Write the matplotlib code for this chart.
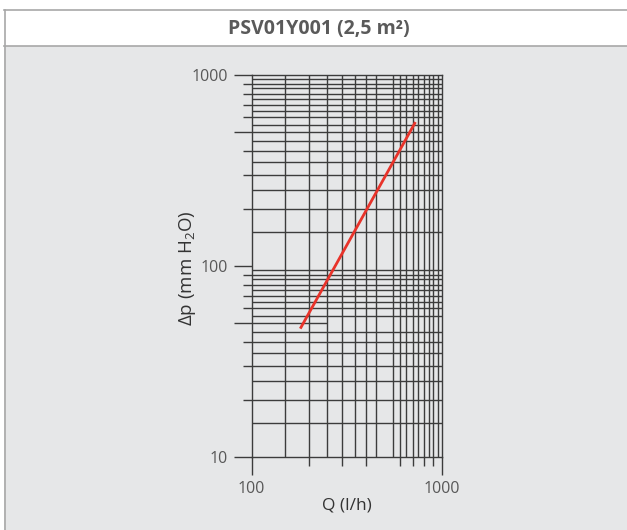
import matplotlib
matplotlib.use("Agg")
import matplotlib.pyplot as plt
from matplotlib.lines import Line2D
from matplotlib.patches import Rectangle

# ---- data ----
title = "PSV01Y001 (2,5 m²)"
x_label = "Q (l/h)"
y_label = "Δp (mm H$_2$O)"
flow_q = [180, 725]          # l/h
pressure_dp = [47, 567]      # mm H2O

x_major = [100, 1000]
x_major_labels = ["100", "1000"]
x_minor = [200, 300, 400, 600, 700, 800, 900]
x_grid = [150, 200, 250, 300, 350, 400, 450, 550, 600, 650, 700, 750, 800, 850, 900, 950]

y_major = [10, 50, 100, 500, 1000]
y_major_labels = ["10", "", "100", "", "1000"]
y_minor = [20, 30, 40, 60, 70, 80, 90, 200, 300, 400, 600, 700, 800, 900]
y_grid = [15, 20, 25, 30, 35, 40, 45, 55, 60, 65, 70, 75, 80, 85, 90, 95,
          150, 200, 250, 300, 350, 400, 450, 500, 550, 600, 650, 700, 750, 800, 850, 900, 950]
y_grid_partial = [50]
y_grid_partial_xmax = 250

# ---- style ----
W, H = 627, 530
BG = "#e6e7e8"
BORDER = "#a8a8a8"
GRID = "#3c3c3c"
TXT = "#585858"

plt.rcParams['font.family'] = ['Open Sans', 'DejaVu Sans']
plt.rcParams['mathtext.fontset'] = 'custom'
plt.rcParams['mathtext.rm'] = 'Open Sans'
plt.rcParams['mathtext.it'] = 'Open Sans'

fig = plt.figure(figsize=(W / 100, H / 100), dpi=100, facecolor="white")

def fx(px):
    return px / W

def fy(py):
    return 1 - py / H

# panel backgrounds
fig.patches.append(Rectangle((fx(4), fy(46)), 1, fy(9) - fy(46), transform=fig.transFigure,
                             facecolor="white", edgecolor="none", zorder=-5))
fig.patches.append(Rectangle((fx(4), 0), 1, fy(46), transform=fig.transFigure,
                             facecolor=BG, edgecolor="none", zorder=-5))
for line in [
    Line2D([fx(4), 1], [fy(9.5), fy(9.5)]),
    Line2D([fx(4), 1], [fy(46), fy(46)]),
    Line2D([fx(4.5), fx(4.5)], [0, fy(9.5)]),
]:
    line.set_transform(fig.transFigure)
    line.set_color(BORDER)
    line.set_linewidth(1.2)
    line.set_zorder(-4)
    fig.lines.append(line)

fig.text(fx(319), fy(29), title, ha="center", va="center", fontsize=14,
         fontweight="bold", color="#5a5a5a")

# axes
x0, x1 = 251.7, 442.0
y0, y1 = 75.0, 457.0
ax = fig.add_axes([fx(x0), fy(y1), (x1 - x0) / W, (y1 - y0) / H])
ax.set_zorder(1)
ax.set_facecolor(BG)
ax.set_xscale("log")
ax.set_yscale("log")
ax.set_xlim(100, 1000)
ax.set_ylim(10, 1000)

LW = 1.0
ax.vlines(x_grid, 10, 1000, colors=GRID, linewidth=LW, zorder=1)
ax.hlines(y_grid, 100, 1000, colors=GRID, linewidth=LW, zorder=1)
ax.hlines(y_grid_partial, 100, y_grid_partial_xmax, colors=GRID, linewidth=LW, zorder=1)

for s in ax.spines.values():
    s.set_color(GRID)
    s.set_linewidth(LW)

ax.set_xticks(x_major)
ax.set_xticklabels(x_major_labels)
ax.set_xticks(x_minor, minor=True)
ax.set_xticklabels([""] * len(x_minor), minor=True)
ax.set_yticks(y_major)
ax.set_yticklabels(y_major_labels)
ax.set_yticks(y_minor, minor=True)
ax.set_yticklabels([""] * len(y_minor), minor=True)

ax.tick_params(which="major", length=13, width=LW, color=GRID, labelsize=11.5,
               labelcolor=TXT, pad=4)
ax.tick_params(which="minor", length=6.5, width=LW, color=GRID)

ax.plot(flow_q, pressure_dp, color="#e8332a", linewidth=2.0, solid_capstyle="butt", zorder=3)

fig.text(fx(346.9), fy(505), x_label, ha="center", va="center", fontsize=12.5, color="#333333")
fig.text(fx(188), fy(268), y_label, ha="center", va="center", rotation=90,
         fontsize=13.5, color="#333333")

fig.savefig("out.png", dpi=100, facecolor="white")
